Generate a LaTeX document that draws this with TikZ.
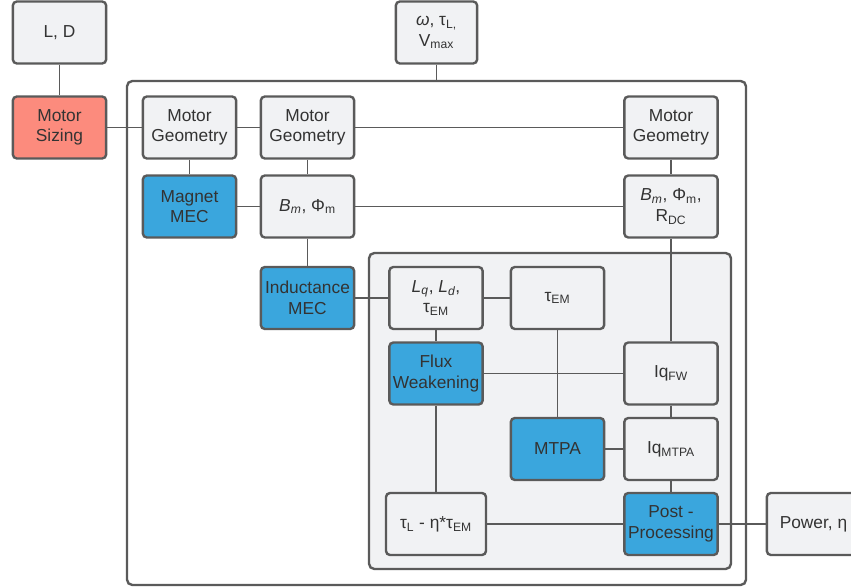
\documentclass[tikz,border=0pt]{standalone}
\usepackage{fontspec}
\setmainfont{Liberation Sans}
\usepackage{tikz}
\usetikzlibrary{positioning}

\definecolor{boxgray}{HTML}{F1F2F4}
\definecolor{boxline}{HTML}{5A5A5A}
\definecolor{mecblue}{HTML}{3AA6DD}
\definecolor{sizered}{HTML}{FC8B7D}
\definecolor{txtgray}{HTML}{333333}

\begin{document}
\begin{tikzpicture}[
  x=0.75pt, y=-0.75pt,
  every node/.style={font=\fontsize{13}{15.5}\selectfont, text=txtgray},
  blockbox/.style={rectangle, draw=boxline, line width=1.8pt, rounded corners=3pt,
    fill=boxgray, minimum width=70pt, minimum height=46.5pt, align=center,
    inner sep=1pt},
  calcbox/.style={blockbox, fill=mecblue},
  sizebox/.style={blockbox, fill=sizered},
  link/.style={draw=boxline, line width=1.1pt},
  frame/.style={draw=boxline, line width=1.8pt, rounded corners=4pt},
]
\useasboundingbox (0,0) rectangle (851,588);

% frames
\draw[frame] (127,81) rectangle (746,585);
\draw[frame, fill=boxgray] (369,253) rectangle (731,569);

% inputs and sizing
\node[blockbox] (ld) at (59.5,32.5) {L, D};
\node[blockbox, minimum width=61pt] (ops) at (436.5,32.5)
  {{\itshape ω}, τ\textsubscript{L,}\\V\textsubscript{max}};
\node[sizebox] (sizing) at (59.5,127.5) {Motor\\Sizing};

% geometry row
\node[blockbox] (geoa) at (189.5,127.5) {Motor\\Geometry};
\node[blockbox] (geob) at (307.5,127.5) {Motor\\Geometry};
\node[blockbox] (geoc) at (671,127.5) {Motor\\Geometry};

% magnet row
\node[calcbox] (magmec) at (189.5,206.5) {Magnet\\MEC};
\node[blockbox] (fluxa) at (307.5,206.5) {{\itshape B\textsubscript{m}}, Φ\textsubscript{m}};
\node[blockbox] (fluxb) at (671,206.5)
  {{\itshape B\textsubscript{m}}, Φ\textsubscript{m},\\R\textsubscript{DC}};

% inductance and torque
\node[calcbox] (indmec) at (307.5,298) {Inductance\\MEC};
\node[blockbox] (ldq) at (436,298)
  {{\itshape L\textsubscript{q}}, {\itshape L\textsubscript{d}},\\τ\textsubscript{EM}};
\node[blockbox] (tem) at (557.5,298) {τ\textsubscript{EM}};

% current control
\node[calcbox] (fw) at (436,373.5) {Flux\\Weakening};
\node[blockbox] (iqfw) at (671,373.5) {Iq\textsubscript{FW}};
\node[calcbox] (mtpa) at (557.5,449) {MTPA};
\node[blockbox] (iqmtpa) at (671,449) {Iq\textsubscript{MTPA}};

% outputs
\node[blockbox, minimum width=75pt] (tload) at (436,524)
  {τ\textsubscript{L} - η*τ\textsubscript{EM}};
\node[calcbox] (post) at (671,524) {Post -\\Processing};
\node[blockbox] (power) at (813.5,524) {Power, η};

% links
\draw[link] (ld) -- (sizing);
\draw[link] (ops.south) -- (ops.south |- 0,81);
\draw[link] (sizing) -- (geoa);
\draw[link] (geoa) -- (geob);
\draw[link] (geob) -- (geoc);
\draw[link] (geoa) -- (magmec);
\draw[link] (geob) -- (fluxa);
\draw[link] (geoc) -- (fluxb);
\draw[link] (magmec) -- (fluxa);
\draw[link] (fluxa) -- (fluxb);
\draw[link] (fluxa) -- (indmec);
\draw[link] (fluxb) -- (iqfw);
\draw[link] (indmec) -- (ldq);
\draw[link] (ldq) -- (tem);
\draw[link] (ldq) -- (fw);
\draw[link] (tem) -- (mtpa);
\draw[link] (fw) -- (iqfw);
\draw[link] (fw) -- (tload);
\draw[link] (mtpa) -- (iqmtpa);
\draw[link] (iqfw) -- (iqmtpa);
\draw[link] (iqmtpa) -- (post);
\draw[link] (tload) -- (post);
\draw[link] (post) -- (power);

\end{tikzpicture}
\end{document}
